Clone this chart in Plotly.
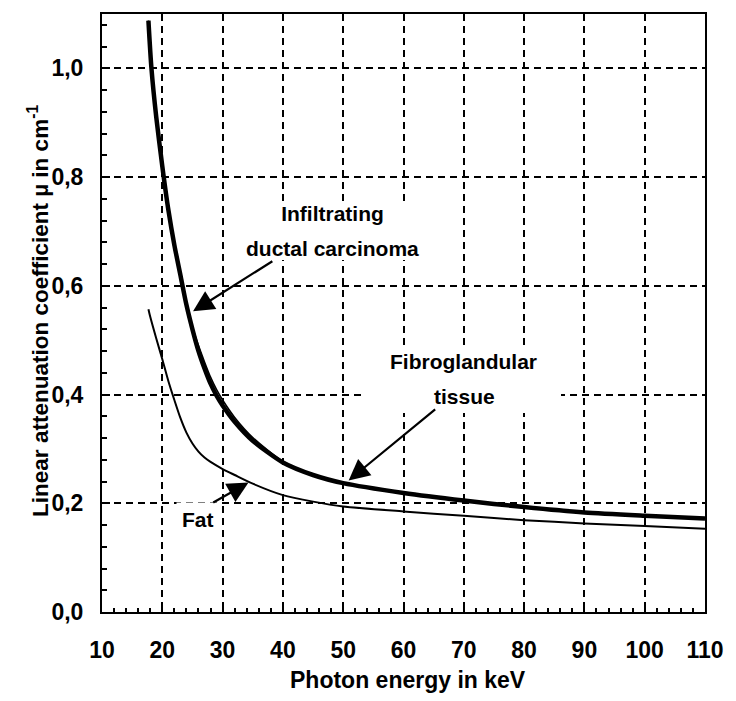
import plotly.graph_objects as go

# --- data ---
energy_carcinoma = [17.7, 18.2, 19, 20, 21, 22, 23, 24, 25, 26, 27, 28, 29, 30, 32, 35, 40, 45, 50, 60, 70, 80, 90, 100, 110]
mu_carcinoma = [1.088, 1.0, 0.91, 0.82, 0.74, 0.675, 0.62, 0.565, 0.52, 0.48, 0.448, 0.42, 0.398, 0.38, 0.35, 0.315, 0.275, 0.252, 0.237, 0.219, 0.205, 0.193, 0.183, 0.177, 0.172]

energy_fibro = [17.7, 18.2, 19, 20, 21, 22, 23, 24, 25, 26, 27, 28, 29, 30, 32, 35, 40, 45, 50, 60, 70, 80, 90, 100, 110]
mu_fibro = [1.088, 1.0, 0.91, 0.82, 0.74, 0.675, 0.62, 0.566, 0.524, 0.49, 0.46, 0.432, 0.409, 0.39, 0.358, 0.321, 0.277, 0.253, 0.237, 0.219, 0.205, 0.193, 0.183, 0.177, 0.172]

energy_fat = [17.7, 18, 19, 20, 21, 22, 23, 24, 25, 26, 27, 28, 30, 32, 35, 40, 45, 50, 60, 70, 80, 90, 100, 110]
mu_fat = [0.557, 0.543, 0.503, 0.465, 0.425, 0.39, 0.357, 0.33, 0.31, 0.295, 0.284, 0.276, 0.263, 0.252, 0.236, 0.215, 0.203, 0.194, 0.185, 0.177, 0.169, 0.163, 0.158, 0.153]

x_range = [10, 110]
y_range = [0, 1.1]

FONT = "Liberation Sans, Arial, sans-serif"

fig = go.Figure()
fig.add_trace(go.Scatter(x=energy_fat, y=mu_fat, mode="lines",
                         line=dict(color="black", width=2, shape="spline", smoothing=0.7),
                         name="Fat"))
fig.add_trace(go.Scatter(x=energy_fibro, y=mu_fibro, mode="lines",
                         line=dict(color="black", width=1.6, shape="spline", smoothing=0.7),
                         name="Fibroglandular tissue"))
fig.add_trace(go.Scatter(x=energy_carcinoma, y=mu_carcinoma, mode="lines",
                         line=dict(color="black", width=4.5, shape="spline", smoothing=0.7),
                         name="Infiltrating ductal carcinoma"))

axis_common = dict(
    showline=True, linecolor="black", linewidth=2, mirror=True,
    ticks="inside", ticklen=8, tickwidth=2, tickcolor="black",
    showgrid=True, gridcolor="black", gridwidth=1.7, griddash="7px,5px",
    zeroline=False,
    tickfont=dict(family=FONT, size=23, color="black", weight="bold"),
)

fig.update_xaxes(range=x_range, tickmode="linear", tick0=10, dtick=10,
                 ticklabelstandoff=16,
                 minor=dict(tickmode="linear", tick0=10, dtick=2, ticks="inside",
                            ticklen=4, tickwidth=1.5, tickcolor="black", showgrid=False),
                 **axis_common)
fig.update_yaxes(range=y_range, tickmode="linear", tick0=0, dtick=0.2, tickformat=".1f",
                 ticklabelstandoff=12,
                 minor=dict(tickmode="linear", tick0=0, dtick=0.04, ticks="inside",
                            ticklen=5, tickwidth=1.5, tickcolor="black", showgrid=False),
                 **axis_common)

lab_font = dict(family=FONT, size=21, color="black", weight="bold")
annotations = []

# first label line carries the white box that hides the grid lines
for bx, by, w, h, t in [(48.3, 0.701, 195, 58, "Infiltrating"),
                        (69.9, 0.424, 195, 63, "Fibroglandular")]:
    annotations.append(dict(x=bx, y=by, xref="x", yref="y", text=t, showarrow=False,
                            width=w, height=h, valign="top", align="center",
                            bgcolor="white", borderpad=0, borderwidth=0, font=lab_font))

# remaining label lines
for tx, ty, t in [(48.3, 0.668, "ductal carcinoma"), (70.1, 0.397, "tissue")]:
    annotations.append(dict(x=tx, y=ty, xref="x", yref="y", text=t, showarrow=False,
                            font=lab_font, xanchor="center", yanchor="middle"))
annotations.append(dict(x=25.9, y=0.170, xref="x", yref="y", text="Fat", showarrow=False,
                        font=lab_font, xanchor="center", yanchor="middle",
                        bgcolor="white", borderpad=5))

# arrows (head x,y ; tail ax,ay)
for hx, hy, tx, ty in [(25.1, 0.553, 38.5, 0.647), (50.9, 0.242, 65.5, 0.375), (34.3, 0.238, 28.2, 0.2)]:
    annotations.append(dict(x=hx, y=hy, ax=tx, ay=ty, xref="x", yref="y", axref="x", ayref="y",
                            text="", showarrow=True, arrowhead=2, arrowsize=1.9,
                            arrowwidth=2.2, arrowcolor="black", standoff=0, startstandoff=0))

# axis titles
annotations.append(dict(xref="paper", yref="paper", x=0.508, y=-0.113,
                        text="Photon energy in keV", showarrow=False,
                        font=dict(family=FONT, size=23, color="black", weight="bold"),
                        xanchor="center", yanchor="middle"))
annotations.append(dict(xref="paper", yref="paper", x=-0.105, y=0.503,
                        text="Linear attenuation coefficient µ in cm<sup>-1</sup>", showarrow=False,
                        textangle=-90,
                        font=dict(family=FONT, size=22.5, color="black", weight="bold"),
                        xanchor="center", yanchor="middle"))

fig.update_layout(
    width=736, height=701,
    margin=dict(l=102, r=20, t=12, b=89),
    paper_bgcolor="white", plot_bgcolor="white",
    separators=",.",
    showlegend=False,
    annotations=annotations,
)

fig.write_html("out.html")
